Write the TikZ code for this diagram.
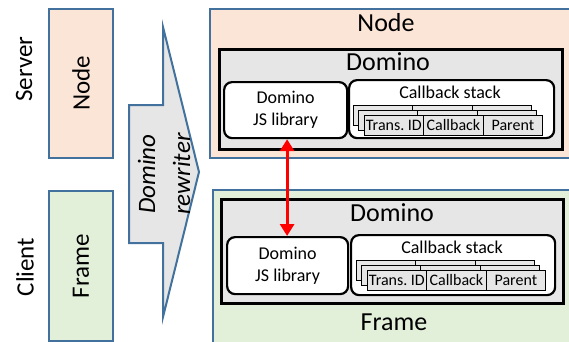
\documentclass[tikz,border=0pt]{standalone}
\usepackage{fontspec}
\setmainfont{Carlito}
\usetikzlibrary{arrows.meta,calc}
\definecolor{peach}{HTML}{FBE5D6}
\definecolor{mint}{HTML}{E2F0D9}
\definecolor{bordblue}{HTML}{41719C}
\definecolor{lgray}{HTML}{E6E6E6}
\definecolor{arrred}{HTML}{FF0000}
\tikzset{
  outerbox/.style={draw=bordblue, line width=2pt, inner sep=0pt, anchor=north west},
  dombox/.style={draw=black, fill=lgray, line width=2.6pt, inner sep=0pt, anchor=north west},
  rbox/.style={draw=black, fill=white, line width=2.2pt, rounded corners=8pt, inner sep=0pt, anchor=north west},
  cellbox/.style={draw=black, fill=lgray, line width=0.8pt, inner sep=0pt, anchor=north west,
    minimum height=20, font=\fontsize{16}{18}\selectfont},
  bigtxt/.style={font=\fontsize{26}{30}\selectfont},
  sidetxt/.style={font=\fontsize{25}{30}\selectfont, rotate=90},
  midtxt/.style={font=\fontsize{18}{22}\selectfont, align=center},
  stackpic/.pic={
    \foreach \ox/\oy in {-11/-10,-5.5/-5}{
      \draw[draw=black, fill=lgray, line width=0.8pt] (\ox,\oy) rectangle ++(178,20);
      \draw[line width=0.8pt] (\ox+59,\oy) -- ++(0,20) (\ox+119,\oy) -- ++(0,20);
    }
    \node[cellbox, minimum width=59] (-tid) at (0,0) {Trans.\ ID};
    \node[cellbox, minimum width=60] (-cb) at (59,0) {Callback};
    \node[cellbox, minimum width=59] (-par) at (119,0) {Parent};
  }
}
\begin{document}
\begin{tikzpicture}[x=1pt,y=-1pt]
\useasboundingbox (0,0) rectangle (569,341);

% left labels
\node[sidetxt] (server) at (24,69) {Server};
\node[sidetxt] (client) at (25,267) {Client};

% left boxes
\node[outerbox, fill=peach, minimum width=64, minimum height=149] (nodeL) at (48,8) {};
\node[sidetxt] (nodeLtxt) at (nodeL.center) {Node};
\node[outerbox, fill=mint, minimum width=64, minimum height=150] (frameL) at (48,190) {};
\node[sidetxt] (frameLtxt) at (frameL.center) {Frame};

% rewriter arrow
\draw[draw=bordblue, line width=2pt, fill=lgray, line join=miter]
  (129,105) -- (163,105) -- (163,27) -- (199,172) -- (163,317) -- (163,243) -- (129,243) -- cycle;
\node[font=\fontsize{25}{35}\selectfont\itshape, rotate=90, align=center] (rewr) at (164,174) {Domino\\rewriter};

% server side
\node[outerbox, fill=peach, minimum width=364, minimum height=149] (nodeR) at (209,8) {};
\node[bigtxt] (nodeRtxt) at (386,23) {Node};
\node[dombox, minimum width=343, minimum height=100] (domA) at (218,48) {};
\node[bigtxt] (domAtxt) at (388,62) {Domino};
\node[rbox, midtxt, minimum width=123, minimum height=56] (jsA) at (223,81) {Domino\\JS library};
\node[rbox, minimum width=205, minimum height=58] (cbA) at (348,79) {};
\node[midtxt] (cbAtxt) at (450,92) {Callback stack};
\pic (stA) at (364,115) {stackpic};

% client side
\node[outerbox, fill=mint, minimum width=361, minimum height=154] (frameR) at (212,189) {};
\node[bigtxt] (frameRtxt) at (394,322) {Frame};
\node[dombox, minimum width=342, minimum height=104] (domB) at (220,198) {};
\node[bigtxt] (domBtxt) at (392,213) {Domino};
\node[rbox, midtxt, minimum width=121, minimum height=57] (jsB) at (226,236) {Domino\\JS library};
\node[rbox, minimum width=204, minimum height=60] (cbB) at (350,234) {};
\node[midtxt] (cbBtxt) at (452,247) {Callback stack};
\pic (stB) at (367,270) {stackpic};

% red arrow
\draw[draw=arrred, line width=3.2pt, {Triangle[width=14pt,length=12pt]}-{Triangle[width=14pt,length=12pt]}]
  ($(jsA.south)+(1.5,0)$) -- ($(jsA.south |- jsB.north)+(1.5,0)$);
\end{tikzpicture}
\end{document}
